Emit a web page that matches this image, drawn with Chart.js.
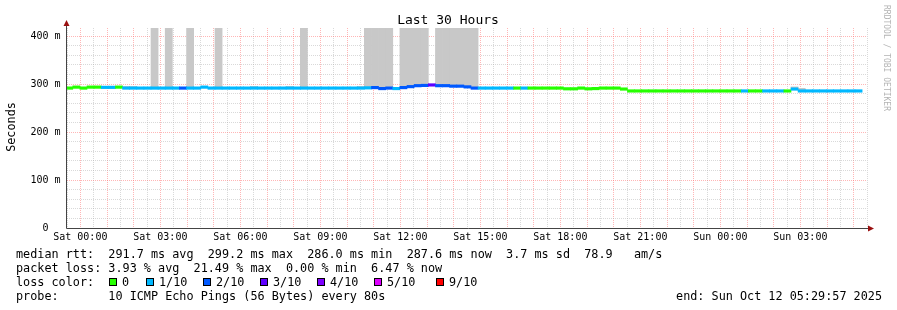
<!DOCTYPE html>
<html>
<head>
<meta charset="utf-8">
<script src="https://cdn.jsdelivr.net/npm/chart.js@4.4.1/dist/chart.umd.min.js"></script>
<style>
  html, body { margin: 0; padding: 0; background: #fff; }
  canvas { display: block; }
</style>
</head>
<body>
<canvas id="graph" width="897" height="310"></canvas>
<script>
// 16 minute consolidation slots, first one starts Fri 23:27 (hours relative to Sat 00:00)
const firstSlotHour = -0.55;
const slotHours = 16 / 60;

// median rtt per slot (ms)
const median = [
  291.5, 293.5, 291.5, 293.5, 293.5, 293, 293, 293.5, 291.5, 291.5,
  291.5, 291.5, 291.5, 291.5, 291.5, 291.5, 291.5, 291.5, 291.5, 293.5,
  291.5, 291.5, 291.5, 291.5, 291.5, 291.5, 291.5, 291.5, 291.5, 291.5,
  291.5, 291.5, 291.5, 291.5, 291.5, 291.5, 291.5, 291.5, 291.5, 291.5,
  291.5, 291.5, 292, 292.5, 290.5, 291.5, 290.5, 292.5, 294.5, 296.5,
  297, 298, 296.5, 296.5, 295.5, 295.5, 294, 291.5, 291.5, 291.5,
  291.5, 291.5, 291.5, 291.5, 291.5, 291.5, 291.5, 291.5, 291.5, 291.5,
  290, 290, 291.5, 290, 290.5, 291.5, 291.5, 291.5, 289.5, 285.5,
  285.5, 285.5, 285.5, 285.5, 285.5, 285.5, 285.5, 285.5, 285.5, 285.5,
  285.5, 285.5, 285.5, 285.5, 285.5, 285.5, 285.5, 285.5, 285.5, 285.5,
  285.5, 285.5, 289.5, 285.5, 285.5, 285.5, 285.5, 285.5, 285.5, 285.5,
  285.5, 285.5
];

// lost pings out of 10 per slot
const loss = [
  0, 0, 0, 0, 0, 1, 1, 0, 1, 1,
  1, 1, 1, 1, 1, 1, 2, 1, 1, 1,
  1, 1, 1, 1, 1, 1, 1, 1, 1, 1,
  1, 1, 1, 1, 1, 1, 1, 1, 1, 1,
  1, 1, 1, 2, 2, 2, 1, 2, 2, 2,
  2, 3, 2, 2, 2, 2, 2, 2, 1, 1,
  1, 1, 1, 0, 1, 0, 0, 0, 0, 0,
  0, 0, 0, 0, 0, 0, 0, 0, 0, 0,
  0, 0, 0, 0, 0, 0, 0, 0, 0, 0,
  0, 0, 0, 0, 0, 1, 0, 0, 1, 1,
  1, 0, 1, 1, 1, 1, 1, 1, 1, 1,
  1, 1
];

// top of the smoke per slot (ms), null = hidden behind the median line
const smokeTop = [
  null, null, null, null, null, null, null, null, 295, 295,
  null, null, 430, null, 430, null, null, 430, null, null,
  null, 430, null, null, null, null, 295, null, null, null,
  null, 295, null, 430, null, null, null, null, null, null,
  null, 295, 430, 430, 430, 430, null, 430, 430, 430,
  430, null, 430, 430, 430, 430, 430, 430, null, null,
  null, null, null, null, null, null, null, null, null, null,
  null, null, null, null, null, null, null, null, null, null,
  null, null, null, null, null, null, null, null, null, null,
  null, null, null, null, null, null, null, null, null, null,
  null, null, 294, 291, null, null, null, null, null, null,
  null, null
];

const lossLabels = ['0', '1/10', '2/10', '3/10', '4/10', '5/10', '9/10'];
const lossLevels = [0, 1, 2, 3, 4, 5, 9];
const lossColors = ['#26ff00', '#00b8ff', '#0059ff', '#5e00ff', '#7e00ff', '#dd00ff', '#ff0000'];

const MONO = "'DejaVu Sans Mono', monospace";
const MAJOR = 'rgba(255, 110, 110, 0.5)';
const MINOR = 'rgba(170, 170, 170, 0.45)';
const HALF_LINE = 2.6; // ms either side of the median

const slotTimes = median.map((_, i) => firstSlotHour + (i + 0.5) * slotHours);
const colorOf = n => lossColors[lossLevels.indexOf(n)];

function hourLabel(h) {
  const day = h < 24 ? 'Sat' : 'Sun';
  const hh = String(h % 24).padStart(2, '0');
  return day + ' ' + hh + ':00';
}

const decor = {
  id: 'decor',
  afterDraw(chart) {
    const ctx = chart.ctx;
    const area = chart.chartArea;
    ctx.save();

    // axes with arrows
    ctx.strokeStyle = '#444';
    ctx.lineWidth = 1;
    ctx.beginPath();
    ctx.moveTo(area.left - 0.5, area.bottom + 0.5);
    ctx.lineTo(area.right + 3, area.bottom + 0.5);
    ctx.moveTo(area.left - 0.5, area.bottom + 0.5);
    ctx.lineTo(area.left - 0.5, area.top - 4);
    ctx.stroke();
    ctx.fillStyle = '#9a1010';
    ctx.beginPath();
    ctx.moveTo(area.right + 7, area.bottom + 0.5);
    ctx.lineTo(area.right + 1, area.bottom - 2.5);
    ctx.lineTo(area.right + 1, area.bottom + 3.5);
    ctx.fill();
    ctx.beginPath();
    ctx.moveTo(area.left - 0.5, area.top - 8);
    ctx.lineTo(area.left - 3.5, area.top - 2);
    ctx.lineTo(area.left + 2.5, area.top - 2);
    ctx.fill();

    ctx.fillStyle = '#000';
    // title
    ctx.font = '13px ' + MONO;
    ctx.textAlign = 'center';
    ctx.textBaseline = 'alphabetic';
    ctx.fillText('Last 30 Hours', 448, 24);

    // y axis title
    ctx.save();
    ctx.font = '11.8px ' + MONO;
    ctx.translate(11.5, 127);
    ctx.rotate(-Math.PI / 2);
    ctx.textBaseline = 'middle';
    ctx.fillText('Seconds', 0, 0);
    ctx.restore();

    // watermark
    ctx.save();
    ctx.font = '8px ' + MONO;
    ctx.fillStyle = '#b4b4b4';
    ctx.translate(886, 5);
    ctx.rotate(Math.PI / 2);
    ctx.textAlign = 'left';
    ctx.textBaseline = 'middle';
    ctx.fillText('RRDTOOL / TOBI OETIKER', 0, 0);
    ctx.restore();

    // legend
    ctx.font = '11.8px ' + MONO;
    ctx.textAlign = 'left';
    ctx.textBaseline = 'middle';
    ctx.fillText('median rtt:  291.7 ms avg  299.2 ms max  286.0 ms min  287.6 ms now  3.7 ms sd  78.9   am/s', 16, 254.5);
    ctx.fillText('packet loss: 3.93 % avg  21.49 % max  0.00 % min  6.47 % now', 16, 268.5);
    ctx.fillText('loss color:', 16, 282.5);
    const boxX = [109, 146, 203, 260, 317, 374, 436];
    lossLabels.forEach((lab, i) => {
      ctx.fillStyle = lossColors[i];
      ctx.fillRect(boxX[i], 278, 8, 8);
      ctx.strokeStyle = '#000';
      ctx.strokeRect(boxX[i] + 0.5, 278.5, 7, 7);
      ctx.fillStyle = '#000';
      ctx.fillText(lab, boxX[i] + 13, 282.5);
    });
    ctx.fillText('probe:       10 ICMP Echo Pings (56 Bytes) every 80s', 16, 296.5);
    ctx.textAlign = 'right';
    ctx.fillText('end: Sun Oct 12 05:29:57 2025', 882, 296.5);
    ctx.restore();
  }
};

new Chart(document.getElementById('graph'), {
  type: 'bar',
  data: {
    datasets: [
      {
        label: 'smoke',
        order: 2,
        data: smokeTop.map((v, i) => v === null ? null : { x: slotTimes[i], y: [median[i], v] }).filter(Boolean),
        backgroundColor: 'rgb(200, 200, 200)'
      },
      {
        label: 'median rtt',
        order: 1,
        data: median.map((v, i) => ({ x: slotTimes[i], y: [v - HALF_LINE, v + HALF_LINE] })),
        backgroundColor: loss.map(colorOf)
      }
    ]
  },
  options: {
    responsive: false,
    animation: false,
    devicePixelRatio: 1,
    layout: { padding: { left: 0, right: 30, top: 28, bottom: 0 } },
    datasets: {
      bar: { grouped: false, barPercentage: 1, categoryPercentage: 1, borderWidth: 0, clip: 0 }
    },
    plugins: { legend: { display: false }, tooltip: { enabled: false } },
    scales: {
      x: {
        type: 'linear',
        min: -0.5,
        max: 29.5,
        offset: false,
        afterFit(scale) { scale.height = 82; },
        grid: {
          offset: false,
          drawTicks: false,
          color: c => (c.tick && Math.abs(c.tick.value - Math.round(c.tick.value)) < 1e-6) ? MAJOR : MINOR
        },
        border: { display: false, dash: [1, 1] },
        ticks: {
          stepSize: 0.5,
          autoSkip: false,
          maxRotation: 0,
          padding: 3,
          color: '#000',
          font: { family: MONO, size: 10 },
          callback: v => (Math.abs(v % 3) < 1e-6 && v >= 0) ? hourLabel(Math.round(v)) : ''
        }
      },
      y: {
        min: 0,
        max: 416.67,
        afterFit(scale) { scale.width = 67; },
        grid: {
          drawTicks: false,
          color: c => (c.tick && c.tick.value % 100 === 0) ? MAJOR : MINOR
        },
        border: { display: false, dash: [1, 1] },
        ticks: {
          stepSize: 20,
          includeBounds: false,
          autoSkip: false,
          padding: 6.5,
          color: '#000',
          font: { family: MONO, size: 10 },
          callback: v => v === 0 ? '0  ' : (v % 100 === 0 ? v + ' m' : '')
        }
      }
    }
  },
  plugins: [decor]
});
</script>
</body>
</html>
